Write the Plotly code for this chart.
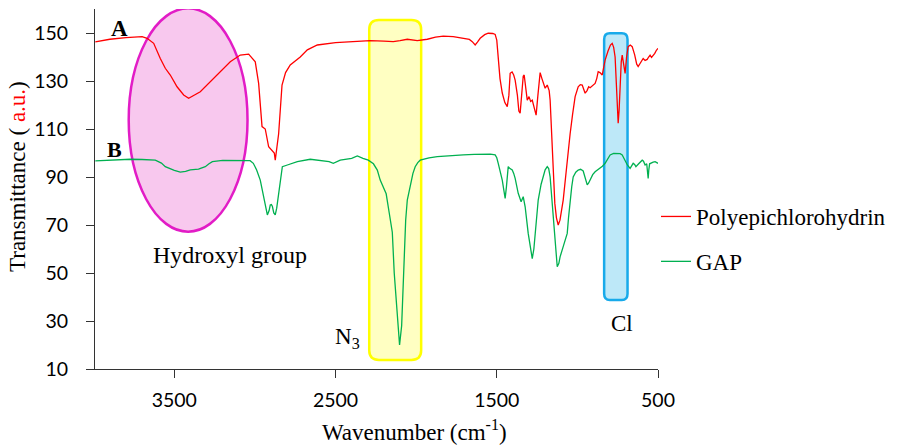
import plotly.graph_objects as go

# ---- data ----
wn_pech = [3990, 3900, 3800, 3700, 3669, 3628, 3587, 3556, 3525, 3483, 3442, 3411, 3339, 3256, 3153, 3091,
           3039, 2998, 2977, 2956, 2936, 2915, 2894, 2880, 2874, 2865, 2853, 2832, 2810, 2781, 2719, 2675,
           2613, 2500, 2409, 2285, 2200, 2142, 2100, 2055, 1993, 1931, 1880, 1832, 1770, 1708, 1670, 1652,
           1634, 1620, 1603, 1575, 1553, 1525, 1510, 1500, 1491, 1480, 1466, 1450, 1435, 1425, 1417, 1405,
           1395, 1386, 1372, 1363, 1355, 1345, 1336, 1330, 1320, 1311, 1300, 1290, 1280, 1270, 1256, 1245,
           1231, 1220, 1207, 1200, 1187, 1175, 1169, 1162, 1156, 1148, 1140, 1130, 1119, 1108, 1098, 1088,
           1070, 1057, 1045, 1030, 1014, 995, 982, 970, 960, 952, 940, 930, 921, 905, 890, 880, 871, 860,
           846, 836, 828, 810, 795, 784, 775, 766, 760, 753, 747, 741, 735, 728, 722, 715, 704, 695, 685,
           672, 660, 645, 632, 623, 610, 600, 592, 580, 567, 558, 549, 540, 530, 520, 510, 500]
t_pech = [146.3, 147.4, 148.1, 148.5, 147.8, 145.7, 139.4, 135.3, 132.5, 127.6, 124.2, 122.8, 125.5, 131, 138, 140.8,
          141.2, 138, 129, 111, 110, 102.6, 101.2, 100, 97, 101, 108, 128.3, 133.5, 136.7, 140, 143,
          145, 146, 146.4, 146.8, 146.6, 146.4, 146.8, 147.4, 146.8, 147.4, 148.3, 148.7, 148.5, 147.8, 147.3, 146.4,
          145, 146.2, 147.8, 149.3, 149.9, 149.8, 149.4, 147, 141, 131, 125, 121, 119.3, 124, 133.2, 133.8,
          132.5, 130.4, 124, 117.5, 116.6, 124, 132, 132.5, 127, 122, 123.5, 121.5, 122, 119, 115.8, 124,
          133.5, 131, 128, 127, 128.3, 126, 122, 110, 100, 88, 79, 73, 70, 72, 76, 80.4,
          92, 101, 108, 116, 123.5, 127.6, 128.5, 128.3, 126, 124.9, 126, 127.6, 127.2, 128, 129, 131, 133.9, 133.5,
          132.5, 136, 138.7, 142.5, 145, 145.7, 144, 140, 132, 120, 112.4, 118, 129, 138, 140.8, 138, 133.2, 140, 144.3,
          145, 144.3, 141, 137, 136, 137.5, 139, 139.4, 138.6, 139, 140, 140.8, 139.8, 140.5, 141.5, 142.8, 143.6]

wn_gap = [3990, 3900, 3773, 3700, 3618, 3580, 3556, 3500, 3463, 3430, 3401, 3350, 3308, 3285, 3264, 3200,
          3091, 3030, 3010, 2990, 2967, 2948, 2935, 2923, 2912, 2905, 2898, 2892, 2883, 2874, 2865, 2855,
          2843, 2830, 2799, 2737, 2657, 2595, 2540, 2514, 2490, 2471, 2400, 2365, 2330, 2297, 2265, 2241,
          2223, 2200, 2186, 2167, 2148, 2136, 2117, 2103, 2090, 2080, 2074, 2065, 2055, 2037, 2020, 2006,
          1990, 1975, 1920, 1869, 1780, 1708, 1640, 1584, 1540, 1510, 1500, 1491, 1480, 1466, 1455, 1448,
          1440, 1429, 1418, 1404, 1395, 1386, 1367, 1349, 1336, 1324, 1305, 1290, 1280, 1270, 1262, 1243,
          1225, 1212, 1200, 1187, 1178, 1169, 1160, 1150, 1140, 1125, 1115, 1107, 1088, 1063, 1055, 1045,
          1035, 1026, 1010, 995, 980, 964, 950, 939, 930, 921, 905, 890, 875, 859, 845, 828, 810, 797,
          775, 753, 735, 722, 712, 704, 690, 673, 664, 654, 645, 637, 620, 598, 590, 580, 570, 565, 561,
          557, 552, 530, 518, 500]
t_gap = [96.7, 97, 97.4, 97.3, 97, 95.8, 94.3, 92.8, 92, 92.3, 93, 93.3, 94.3, 95.5, 96.4, 96.9,
         97, 96.8, 95.7, 93, 88.7, 81.8, 77, 74.2, 76, 78.3, 78.5, 77.8, 75, 74.2, 77, 81.8,
         89, 94.3, 95, 96.4, 97.4, 97, 96.4, 95.7, 96.4, 97, 97.8, 98.75, 97.8, 97, 95.5, 92.9,
         88.7, 85, 83, 75, 67, 50, 33.3, 20, 28, 47, 61, 72, 80.4, 86, 91.5, 94.3,
         96, 97, 98, 98.5, 99, 99.2, 99.4, 99.6, 99.5, 99.2, 98, 95.7, 92.5, 88.7, 84, 81.1,
         86, 94.3, 93.5, 92.9, 91.5, 89.4, 83.2, 79.7, 81.8, 77.6, 66.5, 59, 56, 60, 66.5, 80.4,
         87, 90, 93, 94.3, 93.5, 90, 83, 73.5, 64, 52.6, 54, 56.8, 61, 66.5, 73, 80.4,
         86, 90, 92, 92.9, 93.2, 92.5, 89, 86.7, 87.5, 88.7, 91, 92.2, 93, 93.6, 94.5, 95.7, 98, 99.2,
         99.8, 99.9, 99.7, 99.2, 98, 96.4, 95, 93.6, 94.5, 95.7, 95.2, 94.3, 95.5, 97, 96.6, 95, 95.5, 92, 89.4,
         93, 95.5, 96.2, 96.4, 95.7]

series_names = ["Polyepichlorohydrin", "GAP"]
x_ticks = [3500, 2500, 1500, 500]
y_ticks = [10, 30, 50, 70, 90, 110, 130, 150]

SERIF = "Liberation Serif, Times New Roman, serif"
SANS = "Lato, Liberation Sans, sans-serif"

fig = go.Figure()
fig.add_trace(go.Scatter(x=wn_pech, y=t_pech, mode="lines", name=series_names[0],
                         line=dict(color="#ff0000", width=1.3), legendgroup="a"))
fig.add_trace(go.Scatter(x=wn_gap, y=t_gap, mode="lines", name=series_names[1],
                         line=dict(color="#00b050", width=1.3), legendgroup="b"))


def rounded_rect(x0, x1, y0, y1, rx, ry):
    dx = rx if x1 > x0 else -rx
    return (f"M{x0 + dx},{y0} L{x1 - dx},{y0} Q{x1},{y0} {x1},{y0 + ry} "
            f"L{x1},{y1 - ry} Q{x1},{y1} {x1 - dx},{y1} L{x0 + dx},{y1} "
            f"Q{x0},{y1} {x0},{y1 - ry} L{x0},{y0 + ry} Q{x0},{y0} {x0 + dx},{y0} Z")


# highlight regions
fig.add_shape(type="circle", xref="x", yref="y", x0=3783, x1=3046, y0=67.2, y1=160.3,
              fillcolor="#f8c8ee", line=dict(color="#e21cc6", width=2.5), layer="below")
fig.add_shape(type="path", xref="x", yref="y", path=rounded_rect(2291, 1969, 13.8, 155.4, 60, 4),
              fillcolor="#ffffc2", line=dict(color="#ffff00", width=2.5), layer="below")
fig.add_shape(type="path", xref="x", yref="y", path=rounded_rect(834, 689, 38.8, 149.9, 35, 2.6),
              fillcolor="#bde8f8", line=dict(color="#18aaea", width=2.5), layer="below")

# text labels
labels = [
    dict(x=3841, y=152, text="<b>A</b>", size=23),
    dict(x=3872, y=101.3, text="<b>B</b>", size=22),
    dict(x=3156, y=57.5, text="Hydroxyl group", size=24),
    dict(x=2427, y=23, text="N<sub>3</sub>", size=23),
    dict(x=722, y=29, text="Cl", size=23),
]
for lb in labels:
    fig.add_annotation(x=lb["x"], y=lb["y"], xref="x", yref="y", text=lb["text"], showarrow=False,
                       font=dict(family=SERIF, size=lb["size"], color="black"),
                       xanchor="center", yanchor="middle")

# axis titles (placed as in the reference, slightly off-centre)
fig.add_annotation(x=(414 - 95) / 563, y=-0.172, xref="paper", yref="paper",
                   text="Wavenumber (cm<sup>-1</sup>)", showarrow=False,
                   font=dict(family=SERIF, size=23, color="black"), xanchor="center", yanchor="middle")
fig.add_annotation(x=(17 - 95) / 563, y=(369 - 177) / 360, xref="paper", yref="paper",
                   text="Transmittance ( <span style='color:#ff0000'>a.u.</span>)", textangle=-90,
                   showarrow=False, font=dict(family=SERIF, size=23, color="black"),
                   xanchor="center", yanchor="middle")

fig.update_layout(
    width=897, height=447,
    margin=dict(l=95, r=239, t=9, b=78, autoexpand=False),
    paper_bgcolor="white", plot_bgcolor="white",
    showlegend=True,
    legend=dict(xref="container", yref="container", x=656 / 897, xanchor="left",
                y=1 - 195 / 447, yanchor="top",
                font=dict(family=SERIF, size=23, color="black"),
                bgcolor="rgba(0,0,0,0)", tracegroupgap=12, traceorder="grouped"),
    xaxis=dict(range=[3992, 500], tickvals=x_ticks, showgrid=False, zeroline=False,
               showline=True, linecolor="#333", linewidth=1, ticks="outside", ticklen=8,
               tickcolor="#333", ticklabelstandoff=6,
               tickfont=dict(family=SANS, size=19.5, color="black")),
    yaxis=dict(range=[10, 160], tickvals=y_ticks, showgrid=False, zeroline=False,
               showline=True, linecolor="#333", linewidth=1, ticks="outside", ticklen=8,
               tickcolor="#333", ticklabelstandoff=14,
               tickfont=dict(family=SANS, size=19.5, color="black")),
)

fig.write_html("out.html")
